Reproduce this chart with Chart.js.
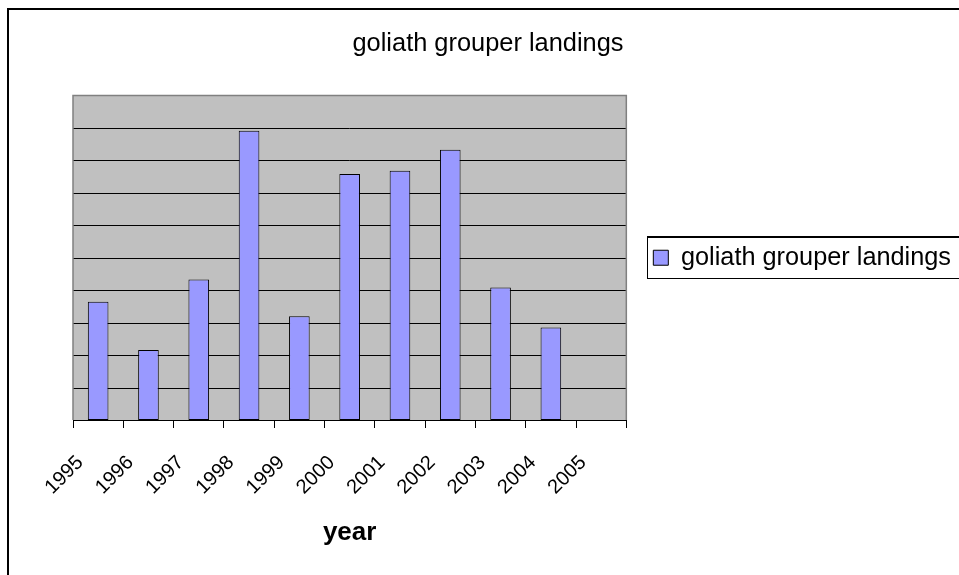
<!DOCTYPE html>
<html lang="en">
<head>
<meta charset="UTF-8">
<title>goliath grouper landings</title>
<script src="https://cdn.jsdelivr.net/npm/chart.js"></script>
<style>
  html, body { margin: 0; padding: 0; background: #fff; overflow: hidden; }
  #frame {
    position: absolute;
    left: 7px;
    top: 8px;
    border-left: 2px solid #000;
    border-top: 2px solid #000;
  }
  canvas { display: block; }
</style>
</head>
<body>
<div id="frame"><canvas id="chart" width="952" height="565"></canvas></div>
<script>
// data (y axis has no labels, values are in gridline units)
const years = ['1995', '1996', '1997', '1998', '1999', '2000', '2001', '2002', '2003', '2004', '2005'];
const landings = [3.64, 2.16, 4.33, 8.91, 3.20, 7.58, 7.68, 8.33, 4.08, 2.85, null];
const seriesName = 'goliath grouper landings';
const chartTitle = 'goliath grouper landings';
const xTitle = 'year';
const yMax = 10;

Chart.defaults.font.family = "'Liberation Sans', Arial, sans-serif";
Chart.defaults.color = '#000';

// grey plot area, gridlines from the (hidden) y scale, grey border, boxed legend
const excelFrame = {
    id: 'excelFrame',
    beforeDraw(chart) {
        const { ctx, chartArea: a } = chart;
        ctx.save();
        ctx.fillStyle = '#c0c0c0';
        ctx.fillRect(a.left, a.top, a.right - a.left, a.bottom - a.top);
        ctx.restore();
    },
    beforeDatasetsDraw(chart) {
        const { ctx, chartArea: a } = chart;
        const y = chart.scales.y;
        ctx.save();
        ctx.strokeStyle = '#000';
        ctx.lineWidth = 1;
        y.ticks.forEach((t) => {
            if (t.value <= 0 || t.value >= yMax) return;
            const py = Math.round(y.getPixelForValue(t.value)) + 0.5;
            ctx.beginPath();
            ctx.moveTo(a.left, py);
            ctx.lineTo(a.right, py);
            ctx.stroke();
        });
        ctx.strokeStyle = '#808080';
        ctx.lineWidth = 1.5;
        ctx.beginPath();
        ctx.moveTo(a.left, a.bottom);
        ctx.lineTo(a.left, a.top);
        ctx.lineTo(a.right, a.top);
        ctx.lineTo(a.right, a.bottom);
        ctx.stroke();
        ctx.restore();
    },
    afterDraw(chart) {
        const hb = chart.legend.legendHitBoxes[0];
        if (!hb) return;
        const { ctx } = chart;
        const cy = hb.top + hb.height / 2;
        const x = Math.round(hb.left - 6) + 0.5;
        const y = Math.round(cy - 22) + 0.5;
        ctx.save();
        ctx.strokeStyle = '#000';
        ctx.lineWidth = 1;
        ctx.strokeRect(x, y, chart.width, 42);
        ctx.beginPath();
        ctx.moveTo(x, y + 1);
        ctx.lineTo(chart.width, y + 1);
        ctx.stroke();
        ctx.restore();
    }
};

const chart = new Chart(document.getElementById('chart'), {
    type: 'bar',
    data: {
        labels: years,
        datasets: [{
            label: seriesName,
            data: landings,
            backgroundColor: '#9999ff',
            borderColor: '#000',
            borderWidth: 1,
            borderSkipped: false,
            barPercentage: 0.41,
            categoryPercentage: 1.0
        }]
    },
    options: {
        responsive: false,
        animation: false,
        layout: { padding: { left: 6, right: 0, top: 0, bottom: 17 } },
        plugins: {
            title: {
                display: true,
                text: chartTitle,
                font: { size: 25.4, weight: 'normal' },
                padding: { top: 19, bottom: 36 }
            },
            legend: {
                position: 'right',
                fullSize: false,
                labels: {
                    font: { size: 25.3 },
                    boxWidth: 15,
                    boxHeight: 15,
                    padding: 27
                }
            },
            tooltip: { enabled: false }
        },
        scales: {
            x: {
                offset: true,
                afterFit(scale) { scale.height = 138; },
                grid: {
                    offset: true,
                    drawOnChartArea: false,
                    drawTicks: true,
                    tickLength: 8,
                    color: '#000'
                },
                border: { display: true, color: '#000', width: 1 },
                ticks: {
                    autoSkip: false,
                    minRotation: 45,
                    maxRotation: 45,
                    labelOffset: -18,
                    padding: 23,
                    font: { size: 20 }
                },
                title: {
                    display: true,
                    text: xTitle,
                    font: { size: 26, weight: 'bold' },
                    padding: { top: 10, bottom: 10 }
                }
            },
            y: {
                display: false,
                min: 0,
                max: yMax,
                afterFit(scale) { scale.width = 58; },
                ticks: { stepSize: 1 }
            }
        }
    },
    plugins: [excelFrame]
});
</script>
</body>
</html>
